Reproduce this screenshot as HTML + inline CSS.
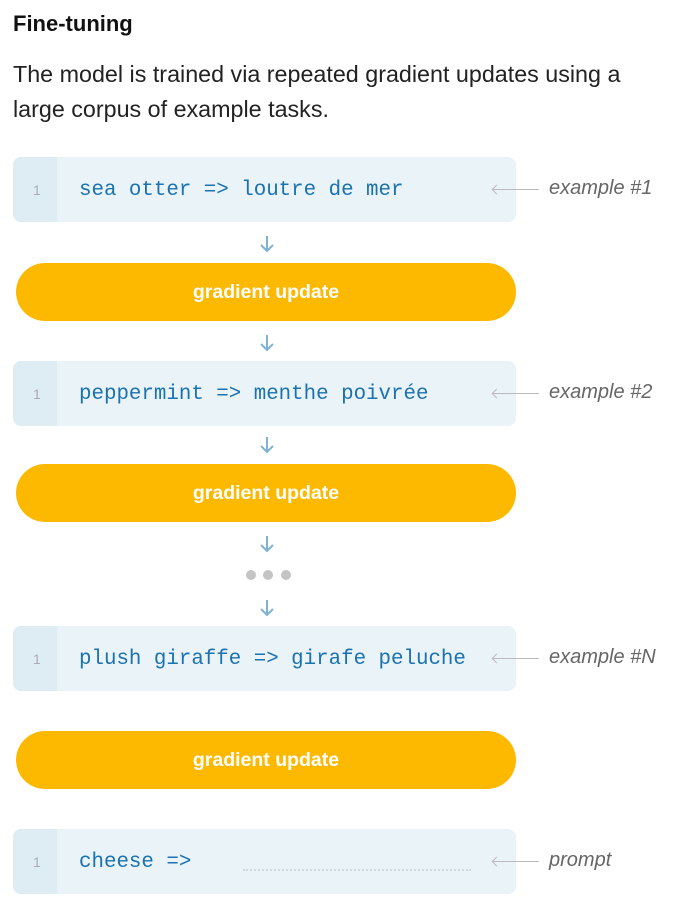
<!DOCTYPE html>
<html><head><meta charset="utf-8"><style>
body{margin:0;width:680px;height:902px;background:#fff;position:relative;font-family:"Liberation Sans",sans-serif;overflow:hidden}
.t{position:absolute;left:13px;top:11px;font-weight:bold;font-size:22px;color:#111}
.p{position:absolute;left:13px;top:57px;font-size:23.3px;line-height:35px;color:#222;width:640px}
.box{position:absolute;left:13px;width:503px;height:65px;background:#eaf3f7;border-radius:8px;overflow:hidden}
.g{position:absolute;left:0;top:0;width:44px;height:65px;background:#deedf4}
.n{position:absolute;left:20px;top:25px;font-size:14px;color:#aab}
.c{position:absolute;left:66px;top:22px;font-family:"Liberation Mono",monospace;font-size:20.8px;color:#1a72b0;white-space:pre}
.pill{position:absolute;left:16px;width:500px;height:58px;background:#fdb900;border-radius:29px;color:#fff;font-weight:bold;font-size:19.5px;text-align:center;line-height:58px}
.lab{position:absolute;left:549px;font-style:italic;font-size:20px;color:#666}
.ln{position:absolute;left:493px;width:46px;height:1px;background:#bbb}
.ah{position:absolute;left:493px;width:6px;height:6px;border-left:1px solid #bbb;border-bottom:1px solid #bbb;transform:rotate(45deg)}
.arr{position:absolute;left:258px;width:18px;height:18px}
.dot{position:absolute;width:10px;height:10px;border-radius:5px;background:#c4c4c4;top:570px}
</style></head><body>
<div class="t">Fine-tuning</div>
<div class="p">The model is trained via repeated gradient updates using a<br>large corpus of example tasks.</div>

<div class="box" style="top:157px"><div class="g"></div><div class="n">1</div><div class="c">sea otter =&gt; loutre de mer</div></div>
<div class="box" style="top:361px"><div class="g"></div><div class="n">1</div><div class="c">peppermint =&gt; menthe poivrée</div></div>
<div class="box" style="top:626px"><div class="g"></div><div class="n">1</div><div class="c">plush giraffe =&gt; girafe peluche</div></div>
<div class="box" style="top:829px"><div class="g"></div><div class="n">1</div><div class="c">cheese =&gt;</div><div style="position:absolute;left:230px;top:40px;width:228px;border-top:2px dotted #cfd8dc"></div></div>

<div class="pill" style="top:263px">gradient update</div>
<div class="pill" style="top:464px">gradient update</div>
<div class="pill" style="top:731px">gradient update</div>

<div class="ln" style="top:189px"></div><div class="ah" style="top:186px"></div><div class="lab" style="top:177px">example #1</div>
<div class="ln" style="top:393px"></div><div class="ah" style="top:390px"></div><div class="lab" style="top:381px">example #2</div>
<div class="ln" style="top:658px"></div><div class="ah" style="top:655px"></div><div class="lab" style="top:646px">example #N</div>
<div class="ln" style="top:861px"></div><div class="ah" style="top:858px"></div><div class="lab" style="top:849px">prompt</div>

<svg class="arr" style="top:235px" viewBox="0 0 18 18"><path d="M9 1V16M3 10L9 16L15 10" fill="none" stroke="#7fb3d5" stroke-width="2"/></svg>
<svg class="arr" style="top:334px" viewBox="0 0 18 18"><path d="M9 1V16M3 10L9 16L15 10" fill="none" stroke="#7fb3d5" stroke-width="2"/></svg>
<svg class="arr" style="top:436px" viewBox="0 0 18 18"><path d="M9 1V16M3 10L9 16L15 10" fill="none" stroke="#7fb3d5" stroke-width="2"/></svg>
<svg class="arr" style="top:535px" viewBox="0 0 18 18"><path d="M9 1V16M3 10L9 16L15 10" fill="none" stroke="#7fb3d5" stroke-width="2"/></svg>
<svg class="arr" style="top:599px" viewBox="0 0 18 18"><path d="M9 1V16M3 10L9 16L15 10" fill="none" stroke="#7fb3d5" stroke-width="2"/></svg>

<div class="dot" style="left:246px"></div><div class="dot" style="left:263px"></div><div class="dot" style="left:281px"></div>
</body></html>
